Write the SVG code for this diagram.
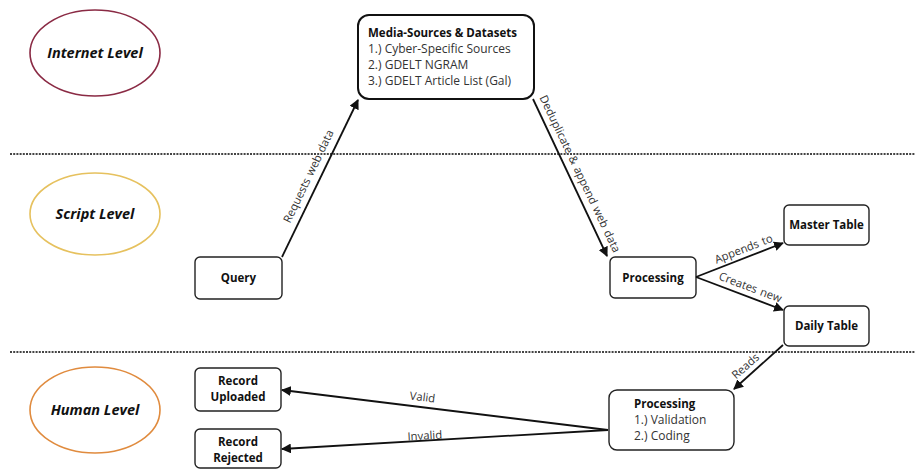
<svg xmlns="http://www.w3.org/2000/svg" width="915" height="469" viewBox="0 0 915 469">
<style>
.lvl{fill:#fff;stroke-width:1.6}
.lvlt{font-family:"Open Sans","Noto Sans",sans-serif;font-size:14.5px;font-weight:700;font-style:italic;fill:#111;text-anchor:middle}
.node{fill:#fff;stroke:#222;stroke-width:1.4}
.big{fill:#fff;stroke:#111;stroke-width:2}
.nt{font-family:"Open Sans","Noto Sans",sans-serif;font-size:11.5px;font-weight:700;fill:#111;text-anchor:middle}
.ttl{font-family:"Open Sans","Noto Sans",sans-serif;font-size:11.5px;font-weight:700;fill:#111}
.sub{font-family:"Open Sans","Noto Sans",sans-serif;font-size:12px;fill:#333}
.el{font-family:"Open Sans","Noto Sans",sans-serif;font-size:11.3px;fill:#333;text-anchor:middle;word-spacing:1px}
.dot{stroke:#444;stroke-width:2;stroke-dasharray:2 1.2}
.edge{stroke:#111;stroke-width:1.8;fill:none;marker-end:url(#ah)}
</style>
<defs>
<marker id="ah" viewBox="0 0 10 10" refX="9" refY="5" markerWidth="5.5" markerHeight="5.5" orient="auto" markerUnits="strokeWidth">
<path d="M0,0 L10,5 L0,10 z" fill="#111"/>
</marker>
</defs>
<rect width="915" height="469" fill="#fff"/>
<line class="dot" x1="10" y1="154" x2="915" y2="154"/>
<line class="dot" x1="10" y1="352" x2="915" y2="352"/>

<g id="internet-level"><ellipse class="lvl" cx="95" cy="53" rx="65" ry="43" stroke="#8a2a44"/><text class="lvlt" x="95" y="58">Internet Level</text></g>
<g id="script-level"><ellipse class="lvl" cx="95" cy="214" rx="65" ry="41" stroke="#e6c15e"/><text class="lvlt" x="95" y="219">Script Level</text></g>
<g id="human-level"><ellipse class="lvl" cx="95" cy="410" rx="65" ry="43" stroke="#e08b3e"/><text class="lvlt" x="95" y="415">Human Level</text></g>

<g id="media-sources"><rect class="big" x="358" y="15" width="176" height="84" rx="11"/>
<text class="ttl" x="368" y="37">Media-Sources &amp; Datasets</text>
<text class="sub" x="368" y="53">1.) Cyber-Specific Sources</text>
<text class="sub" x="368" y="69">2.) GDELT NGRAM</text>
<text class="sub" x="368" y="85">3.) GDELT Article List (Gal)</text></g>

<g id="query"><rect class="node" x="195" y="257" width="87" height="42" rx="5"/><text class="nt" x="238.5" y="282">Query</text></g>
<g id="processing-script"><rect class="node" x="610" y="257" width="86" height="41" rx="5"/><text class="nt" x="653" y="281.5">Processing</text></g>
<g id="master-table"><rect class="node" x="784" y="205" width="85" height="40" rx="5"/><text class="nt" x="826.5" y="229">Master Table</text></g>
<g id="daily-table"><rect class="node" x="784" y="306" width="85" height="40" rx="5"/><text class="nt" x="826.5" y="330">Daily Table</text></g>
<g id="record-uploaded"><rect class="node" x="195" y="368" width="86" height="43" rx="5"/><text class="nt" x="238" y="385">Record</text><text class="nt" x="238" y="400.5">Uploaded</text></g>
<g id="record-rejected"><rect class="node" x="195" y="429" width="86" height="39" rx="5"/><text class="nt" x="238" y="446">Record</text><text class="nt" x="238" y="461.5">Rejected</text></g>
<g id="processing-human"><rect class="node" x="609" y="390" width="125" height="60" rx="8"/>
<text class="ttl" x="634" y="408">Processing</text>
<text class="sub" x="634" y="424">1.) Validation</text>
<text class="sub" x="634" y="440">2.) Coding</text></g>

<g id="connectors">
<line class="edge" x1="282" y1="257" x2="358" y2="100"/>
<text class="el" transform="translate(312,178) rotate(-64.3)">Requests web data</text>
<line class="edge" x1="533" y1="99" x2="607" y2="256"/>
<text class="el" transform="translate(576.5,175.5) rotate(64.5)">Deduplicate &amp; append web data</text>
<line class="edge" x1="696" y1="277" x2="783" y2="243"/>
<text class="el" transform="translate(745,252.5) rotate(-21.3)">Appends to</text>
<line class="edge" x1="696" y1="277" x2="783" y2="310"/>
<text class="el" transform="translate(749,291) rotate(20.8)">Creates new</text>
<line class="edge" x1="783" y1="345" x2="734" y2="389"/>
<text class="el" transform="translate(748,369) rotate(-41.3)">Reads</text>
<line class="edge" x1="608" y1="430" x2="282" y2="390"/>
<text class="el" transform="translate(422,401) rotate(7)">Valid</text>
<line class="edge" x1="608" y1="430" x2="282" y2="449"/>
<text class="el" transform="translate(425,439.5) rotate(-3.3)">Invalid</text>
</g>
</svg>
